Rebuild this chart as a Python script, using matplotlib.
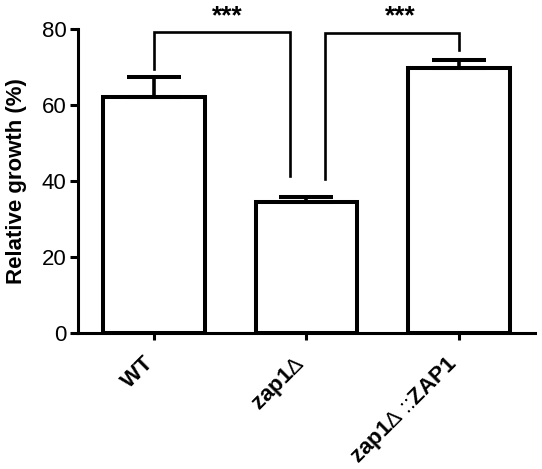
import matplotlib
matplotlib.use('Agg')
import matplotlib.pyplot as plt
import matplotlib.transforms as mtransforms

plt.rcParams['font.family'] = ['Liberation Sans', 'DejaVu Sans']
plt.rcParams['mathtext.fontset'] = 'custom'
plt.rcParams['mathtext.rm'] = 'Liberation Sans'
plt.rcParams['mathtext.bf'] = 'Liberation Sans:bold'

# data
strains = [r'$\mathbf{WT}$', r'$\mathbf{zap1}\Delta$', r'$\mathbf{zap1}\Delta$ ::$\mathbf{ZAP1}$']
growth = [62.1, 34.4, 69.6]
err = [5.1, 1.5, 2.2]

# significance brackets: x left, x right, y left end, y top, y right end
bracket_x1 = [0.0, 1.12]
bracket_x2 = [0.89, 2.0]
bracket_yl = [69.3, 40.5]
bracket_ytop = [79.2, 79.0]
bracket_yr = [41.2, 74.5]
star_x = [0.48, 1.62]
star_text = ['***', '***']

fig = plt.figure(figsize=(5.42, 4.69), dpi=100)
ax = fig.add_axes([0.1434, 0.2893, 0.8436, 0.6495])

x = range(len(growth))
ax.bar(x, growth, width=0.667, color='white', edgecolor='black', linewidth=2.9, zorder=2)
ax.errorbar(x, growth, yerr=[[0] * len(err), err], fmt='none', ecolor='black',
            elinewidth=2.6, capsize=19.5, capthick=2.9, zorder=3)

for i in range(len(bracket_x1)):
    ax.plot([bracket_x1[i], bracket_x1[i], bracket_x2[i], bracket_x2[i]],
            [bracket_yl[i], bracket_ytop[i], bracket_ytop[i], bracket_yr[i]],
            color='black', lw=1.9, clip_on=False, solid_joinstyle='miter')
    ax.text(star_x[i], 83.2, star_text[i], ha='center', va='center',
            fontsize=19, fontweight='bold', clip_on=False)

ax.set_xlim(-0.5, 2.5)
ax.set_ylim(0, 80)
ax.set_yticks([0, 20, 40, 60, 80])
ax.set_xticks(list(x))
ax.set_xticklabels([])

# rotated category labels, placed just below the axis
shift = mtransforms.ScaledTranslation(4 / 100, -19 / 100, fig.dpi_scale_trans)
for xi, lab in zip(x, strains):
    ax.text(xi, 0, lab, transform=ax.get_xaxis_transform() + shift,
            rotation=45, ha='right', va='top', fontsize=16)

ax.tick_params(axis='y', labelsize=16, width=2.2, length=6, pad=2)
ax.tick_params(axis='x', width=2.2, length=5)
ax.set_ylabel('Relative growth (%)', fontsize=16, fontweight='bold', labelpad=11)

for s in ['top', 'right']:
    ax.spines[s].set_visible(False)
for s in ['left', 'bottom']:
    ax.spines[s].set_linewidth(2.2)

fig.savefig('out.png', dpi=100)
